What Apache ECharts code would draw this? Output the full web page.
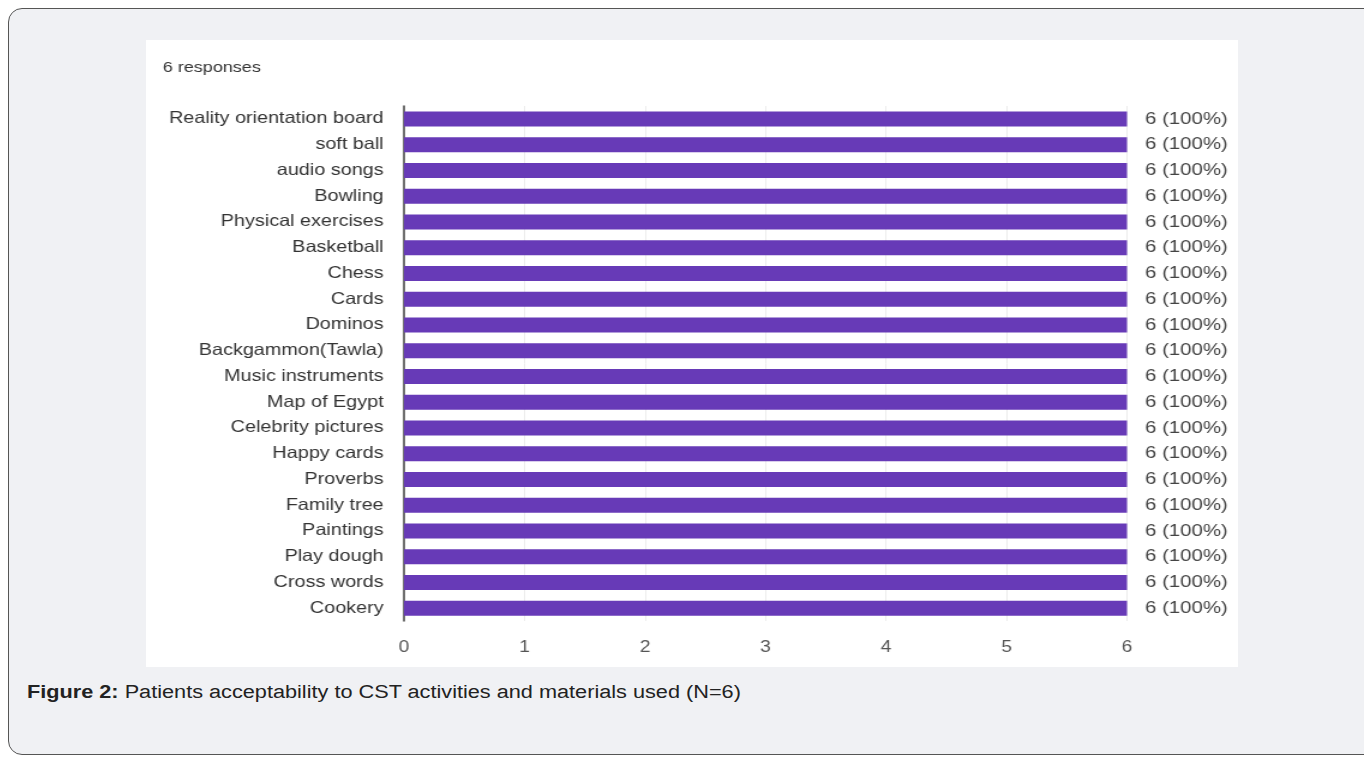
<!DOCTYPE html>
<html><head><meta charset="utf-8">
<script src="https://cdn.jsdelivr.net/npm/echarts@6/dist/echarts.min.js"></script>
<style>
html,body{margin:0;padding:0;width:1364px;height:764px;background:#fff;overflow:hidden;font-family:"Liberation Sans",Arial,sans-serif;}
#frame{position:absolute;left:8px;top:8px;width:1380px;height:745px;background:#f0f1f4;border:1px solid #555;border-radius:14px;}
#wrap{position:absolute;left:146px;top:40px;width:1092px;height:627px;background:#fff;overflow:hidden;}
#chart{position:absolute;left:0;top:0;width:910px;height:627px;transform:scaleX(1.2);transform-origin:0 0;}
#cap{position:absolute;left:27px;top:682px;font-size:18px;color:#222;white-space:nowrap;transform:scaleX(1.205);transform-origin:0 0;}
</style></head>
<body>
<div id="frame"></div>
<div id="wrap"><div id="chart"></div></div>
<div id="cap"><b>Figure 2:</b> Patients acceptability to CST activities and materials used (N=6)</div>
<script>
const categories = ["Reality orientation board","soft ball","audio songs","Bowling","Physical exercises","Basketball","Chess","Cards","Dominos","Backgammon(Tawla)","Music instruments","Map of Egypt","Celebrity pictures","Happy cards","Proverbs","Family tree","Paintings","Play dough","Cross words","Cookery"];
const values = [6,6,6,6,6,6,6,6,6,6,6,6,6,6,6,6,6,6,6,6];
const totalResponses = 6;
const xTicks = [0,1,2,3,4,5,6];

const chart = echarts.init(document.getElementById('chart'));
chart.setOption({
  animation:false,
  title:{text: totalResponses + ' responses', left:9, top:15, textStyle:{fontSize:15, fontWeight:'normal', color:'#333', fontFamily:'Liberation Sans'}},
  grid:{left:215, right:92.5, top:66, bottom:46},
  xAxis:{type:'value', min:xTicks[0], max:xTicks[xTicks.length-1], interval:1,
    axisLine:{show:false}, axisTick:{show:false},
    splitLine:{show:true, lineStyle:{color:'#ececec', width:1}},
    axisLabel:{fontSize:16, color:'#555', margin:19, fontFamily:'Liberation Sans'}},
  yAxis:{type:'category', data:categories, inverse:true,
    axisLine:{show:true, lineStyle:{color:'#444', width:1.5}}, axisTick:{show:false},
    axisLabel:{fontSize:16.5, color:'#333', margin:17, fontFamily:'Liberation Sans'}},
  series:[{type:'bar', data:values, barWidth:15, itemStyle:{color:'#673ab7'},
    label:{show:true, position:'right', distance:15, fontSize:17, color:'#444', fontFamily:'Liberation Sans',
      formatter:p=>p.value + ' (' + Math.round(p.value/totalResponses*100) + '%)'}}]
});
</script>
</body></html>
